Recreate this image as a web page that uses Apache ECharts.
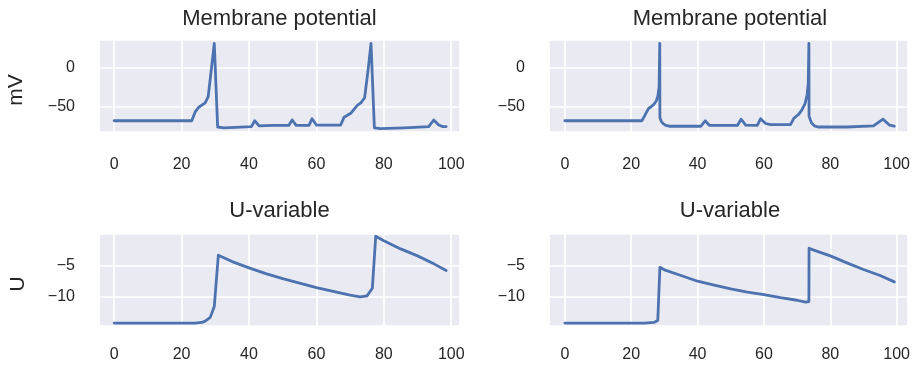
<!DOCTYPE html>
<html><head><meta charset="utf-8">
<script src="https://cdn.jsdelivr.net/npm/echarts@6/dist/echarts.min.js"></script>
<style>html,body{margin:0;padding:0;background:#fff}#c{width:913px;height:370px}</style>
</head><body><div id="c"></div>
<script>
// ---- data ----
const xTicks = [0, 20, 40, 60, 80, 100];
const titles = ['Membrane potential', 'Membrane potential', 'U-variable', 'U-variable'];
const yNames = ['mV', 'U'];

// left column (coarse time step)
const tLeftV = [0, 23, 24, 25, 26, 27, 27.9, 28.8, 29.7, 30.7, 32.5, 36, 40.7, 41.7, 43, 47, 51.8, 52.8, 54, 57.8, 58.7, 60, 64, 67.2, 68.2, 69.2, 70.3, 71.2, 72.2, 73.2, 74.3, 75.3, 76.2, 77.2, 79, 86, 93.3, 94.8, 96.3, 97.5, 98.5];
const vLeft  = [-68, -68, -57, -51, -48, -45, -37, -3, 31, -76, -77, -76.5, -75.5, -68, -74.5, -74, -74, -67, -74, -74, -65.5, -73.5, -73.5, -73.5, -63.5, -61, -58, -53, -48, -45, -38.5, -4, 31, -77, -78, -77, -75.5, -67, -73.5, -75.5, -75.5];
const tLeftU = [0, 24, 26, 27, 28.5, 29.7, 30.9, 35, 40, 45, 50, 55, 60, 65, 70, 73, 75, 76.6, 77.6, 80, 85, 90, 95, 98.5];
const uLeft  = [-14.1, -14.1, -14.0, -13.8, -13.2, -11.5, -3.4, -4.4, -5.4, -6.3, -7.1, -7.8, -8.5, -9.1, -9.7, -9.95, -9.8, -8.6, -0.4, -1.1, -2.4, -3.5, -4.8, -5.8];

// right column (fine time step)
const tRightV = [0, 23.2, 24, 24.6, 25.3, 26, 26.8, 27.5, 28.0, 28.4, 28.6, 28.65, 29.1, 29.7, 30.5, 31.5, 41, 42.3, 43.6, 52, 53.1, 54.5, 58, 59, 60.5, 62, 68, 69, 70.4, 71.4, 72.4, 73.0, 73.35, 73.55, 73.6, 74.0, 74.4, 75.2, 76.3, 85, 93, 95.9, 97.8, 99.3];
const vRight  = [-68, -68, -62, -57, -52, -50, -47, -43, -37, -25, 31, -64, -69, -72, -74, -75, -75, -68, -74, -74, -66, -73.5, -74, -65.3, -71.5, -73, -73, -65, -60, -54.5, -46, -35, -20, 31, -62, -67, -71, -74.5, -76, -76, -74.5, -66, -73.5, -75];
const tRightU = [0, 24, 26.8, 28.0, 28.6, 28.65, 30, 35, 40, 45, 50, 55, 60, 65, 70, 72.5, 73.55, 73.6, 75, 80, 85, 90, 95, 99.3];
const uRight  = [-14.1, -14.1, -14.0, -13.7, -13.4, -5.3, -5.7, -6.6, -7.5, -8.1, -8.7, -9.2, -9.6, -10.1, -10.5, -10.8, -10.7, -2.3, -2.6, -3.5, -4.6, -5.65, -6.6, -7.6];

// ---- chart ----
const FONT = '"Liberation Sans", Arial, sans-serif';
const TXT = '#262626';
const LINE = '#4C72B0';
const zip = (a, b) => a.map((t, i) => [t, b[i]]);
const fmtNum = v => (v < 0 ? '\u2212' + Math.abs(v) : String(v));

const grids = [
  {left: 99, top: 40, width: 361, height: 92},
  {left: 549, top: 40, width: 362, height: 92},
  {left: 99, top: 234, width: 361, height: 92},
  {left: 549, top: 234, width: 362, height: 92}
];
const xRanges = [[-4.5, 102.6], [-4.78, 103.4], [-4.5, 102.6], [-4.78, 103.4]];
const yRanges = [[-82.4, 35.5], [-82.4, 35.5], [-14.56, -0.05], [-14.56, -0.05]];
const ySteps = [50, 50, 5, 5];
const ySplit = [2, 2, 3, 3];
const xMargins = [25, 25, 21, 21];
const seriesData = [zip(tLeftV, vLeft), zip(tRightV, vRight), zip(tLeftU, uLeft), zip(tRightU, uRight)];

const option = {
  animation: false,
  backgroundColor: '#ffffff',
  title: grids.map((g, i) => ({
    text: titles[i],
    left: g.left + g.width / 2,
    top: i < 2 ? 8 : 200,
    textAlign: 'center',
    padding: 0,
    textStyle: {fontFamily: FONT, fontSize: 22, fontWeight: 'normal', color: TXT}
  })),
  grid: grids.map(g => Object.assign({show: true, backgroundColor: '#EAEAF2', borderWidth: 0}, g)),
  xAxis: grids.map((g, i) => ({
    type: 'value', gridIndex: i, min: xRanges[i][0], max: xRanges[i][1],
    axisLine: {show: false}, axisTick: {show: false},
    splitLine: {show: true, lineStyle: {color: '#ffffff', width: 1.7}},
    axisLabel: {
      margin: xMargins[i], fontFamily: FONT, fontSize: 16, color: TXT,
      showMinLabel: false, showMaxLabel: false,
      formatter: v => (xTicks.indexOf(v) >= 0 ? String(v) : '')
    }
  })),
  yAxis: grids.map((g, i) => ({
    type: 'value', gridIndex: i, min: yRanges[i][0], max: yRanges[i][1], splitNumber: ySplit[i],
    axisLine: {show: false}, axisTick: {show: false},
    splitLine: {show: true, lineStyle: {color: '#ffffff', width: 1.7}},
    axisLabel: {
      margin: 24, fontFamily: FONT, fontSize: 16, color: TXT,
      showMinLabel: false, showMaxLabel: false,
      formatter: v => (Math.abs(v / ySteps[i] - Math.round(v / ySteps[i])) < 1e-9 ? fmtNum(v) : '')
    }
  })),
  series: seriesData.map((d, i) => ({
    type: 'line', xAxisIndex: i, yAxisIndex: i, data: d,
    showSymbol: false, symbol: 'none', clip: true,
    lineStyle: {color: LINE, width: 2.8, join: 'round', cap: 'round'}
  })),
  graphic: [
    {type: 'text', x: 16, y: 90, rotation: Math.PI / 2,
     style: {text: yNames[0], align: 'center', verticalAlign: 'middle', font: '21px ' + FONT, fill: TXT}},
    {type: 'text', x: 18, y: 284, rotation: Math.PI / 2,
     style: {text: yNames[1], align: 'center', verticalAlign: 'middle', font: '21px ' + FONT, fill: TXT}}
  ]
};
const chart = echarts.init(document.getElementById('c'), null, {renderer: 'canvas'});
chart.setOption(option);
</script>
</body></html>
